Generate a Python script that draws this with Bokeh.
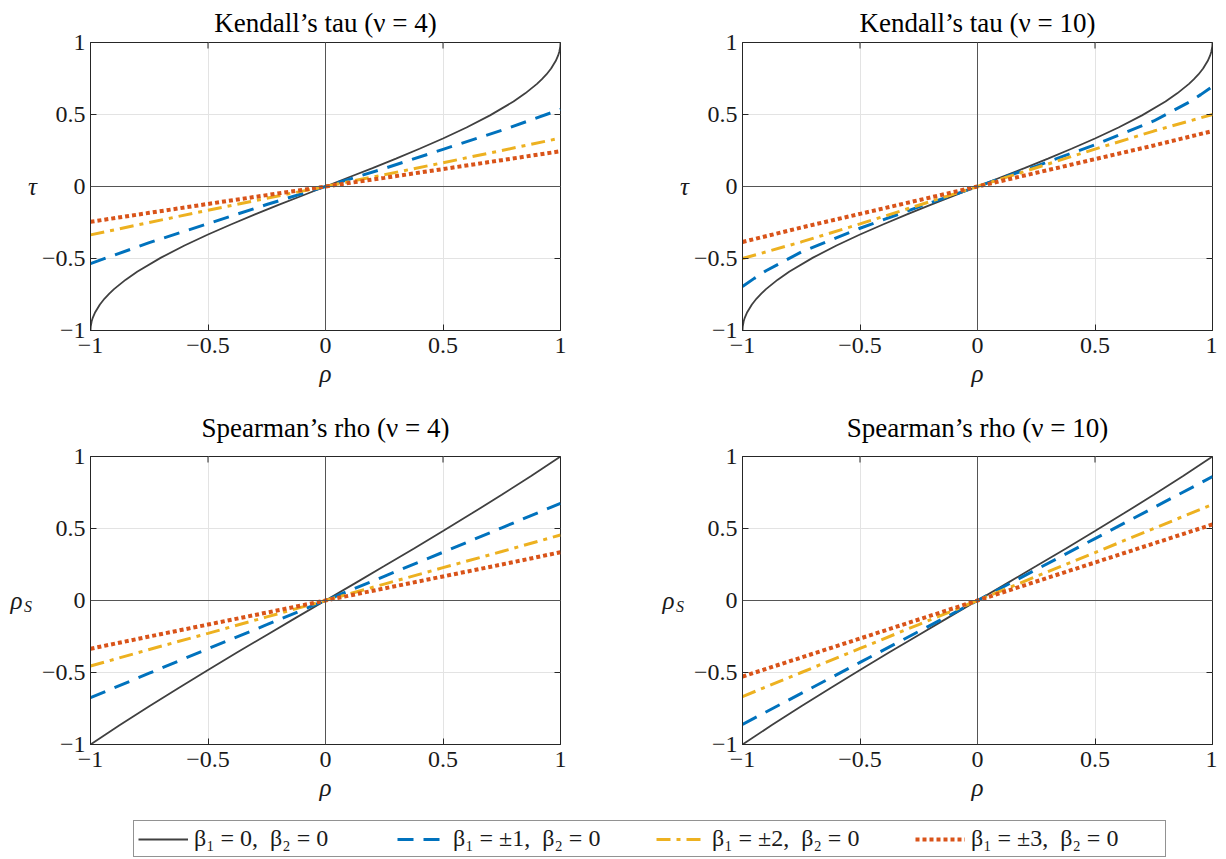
import math
from bokeh.plotting import figure
from bokeh.layouts import column, row
from bokeh.models import Range1d, FixedTicker, LinearAxis, Legend, LegendItem, Span
from bokeh.embed import file_html
from bokeh.resources import INLINE

# ---------------- data ----------------
rho_k = [-1.0, -0.999, -0.995, -0.99, -0.98, -0.96, -0.94, -0.92, -0.9, -0.85, -0.8, -0.7, -0.6, -0.5,
         -0.4, -0.3, -0.2, -0.1, 0.0, 0.1, 0.2, 0.3, 0.4, 0.5, 0.6, 0.7, 0.8, 0.85, 0.9, 0.92, 0.94,
         0.96, 0.98, 0.99, 0.995, 0.999, 1.0]
tau_beta0 = [-1.0, -0.972, -0.936, -0.910, -0.873, -0.819, -0.778, -0.744, -0.713, -0.647, -0.590,
             -0.494, -0.410, -0.333, -0.262, -0.194, -0.128, -0.064, 0.0, 0.064, 0.128, 0.194, 0.262,
             0.333, 0.410, 0.494, 0.590, 0.647, 0.713, 0.744, 0.778, 0.819, 0.873, 0.910, 0.936, 0.972, 1.0]

rho_s = [-1.0, -0.875, -0.75, -0.625, -0.5, -0.375, -0.25, -0.125, 0.0, 0.125, 0.25, 0.375, 0.5,
         0.625, 0.75, 0.875, 1.0]
rhoS_beta0 = [-1.0, -0.865, -0.734, -0.607, -0.483, -0.360, -0.239, -0.119, 0.0, 0.119, 0.239, 0.360,
              0.483, 0.607, 0.734, 0.865, 1.0]

rho9 = [-1.0, -0.75, -0.5, -0.25, 0.0, 0.25, 0.5, 0.75, 1.0]
rho13 = [-1.0, -0.95, -0.9, -0.75, -0.5, -0.25, 0.0, 0.25, 0.5, 0.75, 0.9, 0.95, 1.0]

# Kendall's tau, nu = 4
tau4_b1 = [-0.535, -0.390, -0.258, -0.125, 0.0, 0.125, 0.258, 0.390, 0.535]
tau4_b2 = [-0.336, -0.250, -0.165, -0.082, 0.0, 0.082, 0.165, 0.250, 0.336]
tau4_b3 = [-0.245, -0.183, -0.121, -0.060, 0.0, 0.060, 0.121, 0.183, 0.245]
# Kendall's tau, nu = 10
tau10_b1 = [-0.695, -0.638, -0.585, -0.455, -0.290, -0.142, 0.0, 0.142, 0.290, 0.455, 0.585, 0.638, 0.695]
tau10_b2 = [-0.500, -0.385, -0.260, -0.130, 0.0, 0.130, 0.260, 0.385, 0.500]
tau10_b3 = [-0.385, -0.285, -0.190, -0.095, 0.0, 0.095, 0.190, 0.285, 0.385]
# Spearman's rho, nu = 4
rs4_b1 = [-0.675, -0.505, -0.335, -0.168, 0.0, 0.168, 0.335, 0.505, 0.675]
rs4_b2 = [-0.455, -0.340, -0.228, -0.114, 0.0, 0.114, 0.228, 0.340, 0.455]
rs4_b3 = [-0.335, -0.250, -0.167, -0.084, 0.0, 0.084, 0.167, 0.250, 0.335]
# Spearman's rho, nu = 10
rs10_b1 = [-0.860, -0.645, -0.430, -0.215, 0.0, 0.215, 0.430, 0.645, 0.860]
rs10_b2 = [-0.667, -0.500, -0.333, -0.167, 0.0, 0.167, 0.333, 0.500, 0.667]
rs10_b3 = [-0.528, -0.396, -0.264, -0.132, 0.0, 0.132, 0.264, 0.396, 0.528]

ticks = [-1.0, -0.5, 0.0, 0.5, 1.0]
tick_labels = {-1.0: "−1", -0.5: "−0.5", 0.0: "0", 0.5: "0.5", 1.0: "1"}

legend_labels = ["β₁ = 0,  β₂ = 0", "β₁ = ±1,  β₂ = 0", "β₁ = ±2,  β₂ = 0", "β₁ = ±3,  β₂ = 0"]

# ---------------- styles ----------------
FONT = "Liberation Serif"
AX = "#262626"
TXT = "#1a1a1a"
GRAY = "#404040"
BLUE = "#0072BD"
YEL = "#EDB120"
RED = "#D95319"
STY = [
    dict(line_color=GRAY, line_width=1.8),
    dict(line_color=BLUE, line_width=3, line_dash="16 10"),
    dict(line_color=YEL, line_width=3, line_dash="14 6 4 6"),
    dict(line_color=RED, line_width=4, line_dash="4 3"),
]


def panel(title, ylab, series, bl, br, bt, bb, tstand):
    p = figure(frame_width=470, frame_height=288, x_range=Range1d(-1, 1), y_range=Range1d(-1, 1),
               output_backend="svg", toolbar_location=None,
               min_border_left=bl, min_border_right=br, min_border_top=bt, min_border_bottom=bb)
    p.title.text = title
    p.title.align = "center"
    p.title.text_font = FONT
    p.title.text_font_size = "27px"
    p.title.text_font_style = "normal"
    p.title.text_color = "black"
    p.title.standoff = tstand
    p.outline_line_color = AX
    p.outline_line_alpha = 1
    p.background_fill_color = "white"

    for ax in (p.xaxis[0], p.yaxis[0]):
        ax.ticker = FixedTicker(ticks=ticks)
        ax.major_label_overrides = tick_labels
        ax.major_tick_in = 6
        ax.major_tick_out = 0
        ax.minor_tick_line_color = None
        ax.axis_line_color = AX
        ax.major_tick_line_color = AX
        ax.major_label_text_font = FONT
        ax.major_label_text_font_size = "24px"
        ax.major_label_text_color = TXT
    p.xaxis.major_label_standoff = 7
    p.yaxis.major_label_standoff = 5
    p.xaxis.axis_label = "ρ"
    p.xaxis.axis_label_text_font = FONT
    p.xaxis.axis_label_text_font_style = "italic"
    p.xaxis.axis_label_text_font_size = "25px"
    p.xaxis.axis_label_standoff = 4
    p.xaxis.axis_label_text_color = TXT

    p.xgrid.ticker = FixedTicker(ticks=ticks)
    p.ygrid.ticker = FixedTicker(ticks=ticks)
    p.grid.grid_line_color = "#e3e3e3"
    p.grid.grid_line_width = 1

    p.add_layout(Span(location=0, dimension="height", line_color="#555555", line_width=1))
    p.add_layout(Span(location=0, dimension="width", line_color="#555555", line_width=1))

    for (xs, ys), st in zip(series, STY):
        p.line(xs, ys, **st)

    # inward tick marks on the top and right edges of the box (half of each dash is clipped)
    p.scatter(x=ticks, y=[1.0] * len(ticks), marker="dash", angle=math.pi / 2, size=12,
              line_color=AX, line_width=1)
    p.scatter(x=[1.0] * len(ticks), y=ticks, marker="dash", size=12, line_color=AX, line_width=1)

    main, sub = ylab
    ya = p.yaxis[0]
    ya.axis_label_orientation = "horizontal"
    ya.axis_label_text_font = FONT
    ya.axis_label_text_color = TXT
    ya.axis_label_text_font_style = "italic"
    if sub is None:
        ya.axis_label = main
        ya.axis_label_text_font_size = "25px"
        ya.axis_label_standoff = 2
    else:
        ya.axis_label = "\n" + sub
        ya.axis_label_text_font_size = "16px"
        ya.axis_label_text_line_height = 0.75
        ya.axis_label_standoff = 7
        outer = LinearAxis(ticker=FixedTicker(ticks=[]),
                           major_tick_in=0, major_tick_out=0, major_tick_line_color=None,
                           minor_tick_line_color=None, axis_line_color=None,
                           axis_label=main, axis_label_orientation="horizontal",
                           axis_label_text_font=FONT, axis_label_text_font_style="italic",
                           axis_label_text_font_size="25px", axis_label_text_color=TXT,
                           axis_label_standoff=-2)
        p.add_layout(outer, "left")
    return p


p1 = panel("Kendall’s tau (ν = 4)", ("τ", None),
           [(rho_k, tau_beta0), (rho9, tau4_b1), (rho9, tau4_b2), (rho9, tau4_b3)], 90, 92, 42, 61, 9)
p2 = panel("Kendall’s tau (ν = 10)", ("τ", None),
           [(rho_k, tau_beta0), (rho13, tau10_b1), (rho9, tau10_b2), (rho9, tau10_b3)], 90, 5, 42, 61, 9)
p3 = panel("Spearman’s rho (ν = 4)", ("ρ", "S"),
           [(rho_s, rhoS_beta0), (rho9, rs4_b1), (rho9, rs4_b2), (rho9, rs4_b3)], 90, 92, 65, 61, 28)
p4 = panel("Spearman’s rho (ν = 10)", ("ρ", "S"),
           [(rho_s, rhoS_beta0), (rho9, rs10_b1), (rho9, rs10_b2), (rho9, rs10_b3)], 90, 5, 65, 61, 28)

# ---------------- legend strip ----------------
lf = figure(frame_width=1217, frame_height=54, x_range=Range1d(0, 1), y_range=Range1d(0, 1),
            output_backend="svg", toolbar_location=None, min_border=0)
lf.axis.visible = False
lf.grid.visible = False
lf.outline_line_color = None
items = []
for lab, st in zip(legend_labels, STY):
    r = lf.line([5, 6], [5, 6], **st)
    items.append(LegendItem(label=lab, renderers=[r]))
leg = Legend(items=items, orientation="horizontal", location=(133, 2),
             border_line_color=AX, border_line_width=1, background_fill_alpha=1,
             label_text_font=FONT, label_text_font_size="24px", label_text_color=TXT,
             glyph_width=50, glyph_height=20, label_standoff=6, label_width=190,
             spacing=13, padding=4, margin=0)
lf.add_layout(leg, "center")

layout = column(row(p1, p2), row(p3, p4), lf, spacing=0)

with open("out.html", "w") as f:
    f.write(file_html(layout, INLINE))
